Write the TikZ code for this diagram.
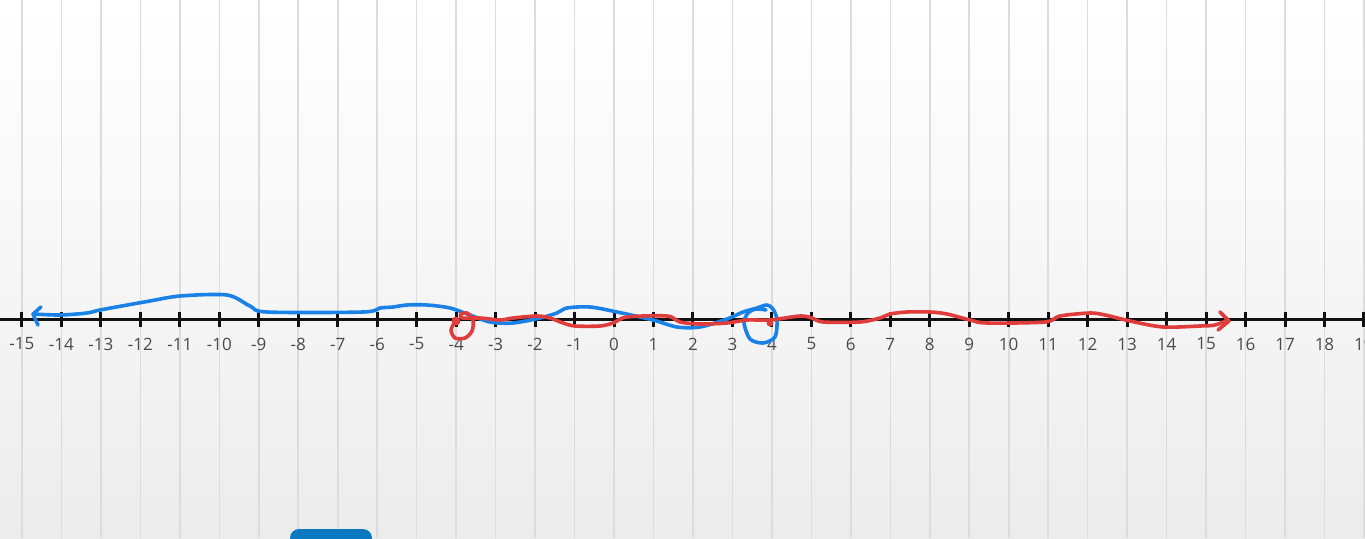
\documentclass[tikz,border=0pt]{standalone}
\usepackage{fontspec}
\setmainfont{Open Sans}
\usepackage{tikz}
\usetikzlibrary{positioning,arrows.meta,calc}
\definecolor{ink}{HTML}{111111}
\definecolor{bgGray}{HTML}{ECECEC}
\definecolor{gridGray}{HTML}{DCDCDC}
\definecolor{numGray}{HTML}{4A4A4A}
\definecolor{penBlue}{HTML}{1A82E6}
\definecolor{penRed}{HTML}{E03C3C}
\definecolor{btnBlue}{HTML}{0B78C2}
\tikzset{
  gridline/.style={gridGray, line width=1.6pt},
  axisline/.style={ink, line width=3pt},
  tickmark/.style={ink, line width=3pt},
  numlbl/.style={font=\fontsize{17}{17}\selectfont, text=numGray, inner sep=0pt},
  pen/.style={line width=3.6pt, line cap=round, line join=round},
}
\newcommand{\unitpx}{39.47}

\begin{document}
\begin{tikzpicture}[x=1pt, y=-1pt]
\useasboundingbox (0,0) rectangle (1365,538);
\clip (0,0) rectangle (1365,538);
\shade[top color=white, bottom color=bgGray, middle color=bgGray!45] (0,0) rectangle (1365,538);
\fill[white] (0,0) rectangle (1365,4);
% grid and number line
\foreach \n in {-16,...,19} \draw[gridline] ({614+\unitpx*\n},0) -- ({614+\unitpx*\n},538);
\draw[axisline] (0,319) -- (1365,319);
\foreach \n in {-16,...,19} \draw[tickmark] ({614+\unitpx*\n},311.5) -- ({614+\unitpx*\n},327);
\foreach \n in {-15,...,19} \node[numlbl] (lbl\n) at ({614+\unitpx*\n},344) {\n};
% blue stroke
\draw[pen, penBlue] plot[smooth, tension=0.5] coordinates {(33,314) (60,315) (87,313) (100,310) (133,304) (150,301) (180,296) (227,295) (250,306) (267,312) (363,312) (380,308) (393,307) (407,305) (427,305) (450,308) (470,315) (490,322) (513,323) (540,318) (557,313) (567,308) (590,307) (617,312) (653,320) (677,327) (700,327) (727,319) (743,312) (757,308) (767,305) (773,309) (777,320) (775,337) (763,343) (750,339) (744,323) (748,313) (756,309) (766,310)};
\draw[pen, penBlue] (41,307) -- (33,314) -- (38,325);
% red stroke
\fill[penRed] (456,321) circle (4.5);
\fill[penRed] (770,323) circle (3.5);
\draw[pen, penRed] plot[smooth, tension=0.5] coordinates {(455,322) (451,330) (455,338) (465,338) (472,331) (473,320) (467,313) (461,314) (462,318) (480,318) (500,320) (513,318) (537,316) (550,318) (563,323) (575,326) (600,326) (613,323) (627,317) (667,316) (680,322) (700,324) (727,323) (747,320) (770,320) (800,316) (812,318) (823,322) (860,322) (880,318) (890,314) (907,312) (930,312) (947,314) (970,320) (987,323) (1045,322) (1060,316) (1090,313) (1105,315) (1130,321) (1163,327) (1200,326) (1215,325) (1228,320)};
\draw[pen, penRed] (1220,312) -- (1229,321) -- (1218,330);
% button
\fill[btnBlue, rounded corners=9pt] (290,529) rectangle (372,560);
\end{tikzpicture}
\end{document}
